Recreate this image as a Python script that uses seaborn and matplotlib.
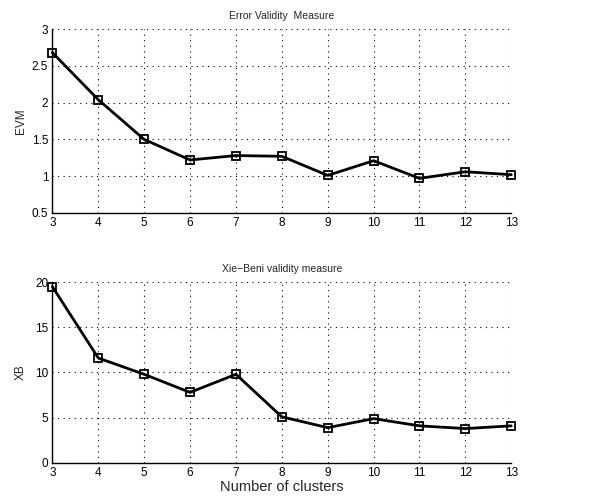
import matplotlib
matplotlib.use('Agg')
import matplotlib.pyplot as plt
import seaborn as sb
import pandas as pd

# cluster counts and validity measures
clusters = [3, 4, 5, 6, 7, 8, 9, 10, 11, 12, 13]
evm = [2.68, 2.04, 1.50, 1.22, 1.28, 1.27, 1.01, 1.21, 0.97, 1.06, 1.02]
xb = [19.5, 11.6, 9.8, 7.8, 9.8, 5.1, 3.9, 4.9, 4.1, 3.8, 4.1]

evm_ticks = [0.5, 1, 1.5, 2, 2.5, 3]
evm_labels = ['0.5', '1', '1.5', '2', '2.5', '3']
xb_ticks = [0, 5, 10, 15, 20]

sb.set_style('white')
plt.rcParams['font.family'] = ['Liberation Sans', 'DejaVu Sans']

fig = plt.figure(figsize=(6.16, 5.01), dpi=100)
ax1 = fig.add_axes([0.085, 0.575, 0.745, 0.367])
ax2 = fig.add_axes([0.085, 0.076, 0.745, 0.361])

df = pd.DataFrame({'k': clusters, 'EVM': evm, 'XB': xb})


def style_axis(ax, yticks, ylim):
    ax.set_xlim(3, 13)
    ax.set_ylim(*ylim)
    ax.set_xticks(clusters)
    ax.set_yticks(yticks)
    ax.grid(True, color='black', linestyle=(0, (1, 4)), linewidth=0.8)
    ax.spines['top'].set_visible(False)
    ax.spines['right'].set_visible(False)
    for s in ['left', 'bottom']:
        ax.spines[s].set_color('black')
        ax.spines[s].set_linewidth(1.0)
    ax.tick_params(axis='both', labelsize=8.5, length=0, pad=3, colors='black')


# === TOP: ERROR VALIDITY MEASURE ===
sb.lineplot(data=df, x='k', y='EVM', ax=ax1, color='black', linewidth=2,
            marker='s', markersize=5.5, markerfacecolor='none',
            markeredgecolor='black', markeredgewidth=1.3, clip_on=False)
style_axis(ax1, evm_ticks, (0.5, 3))
ax1.set_yticklabels(evm_labels)
ax1.set_title('Error Validity  Measure', fontsize=7.5, pad=7)
ax1.set_xlabel('')
ax1.set_ylabel('EVM', fontsize=8.5)
ax1.yaxis.set_label_coords(-0.055, 0.5)

# === BOTTOM: XIE-BENI ===
sb.lineplot(data=df, x='k', y='XB', ax=ax2, color='black', linewidth=2,
            marker='s', markersize=5.5, markerfacecolor='none',
            markeredgecolor='black', markeredgewidth=1.3, clip_on=False)
style_axis(ax2, xb_ticks, (0, 20))
ax2.set_title('Xie\u2212Beni validity measure', fontsize=7.5, pad=7)
ax2.set_xlabel('Number of clusters', fontsize=10.5, labelpad=1)
ax2.set_ylabel('XB', fontsize=8.5)
ax2.yaxis.set_label_coords(-0.055, 0.5)

fig.savefig('out.png', dpi=100, facecolor='white')
